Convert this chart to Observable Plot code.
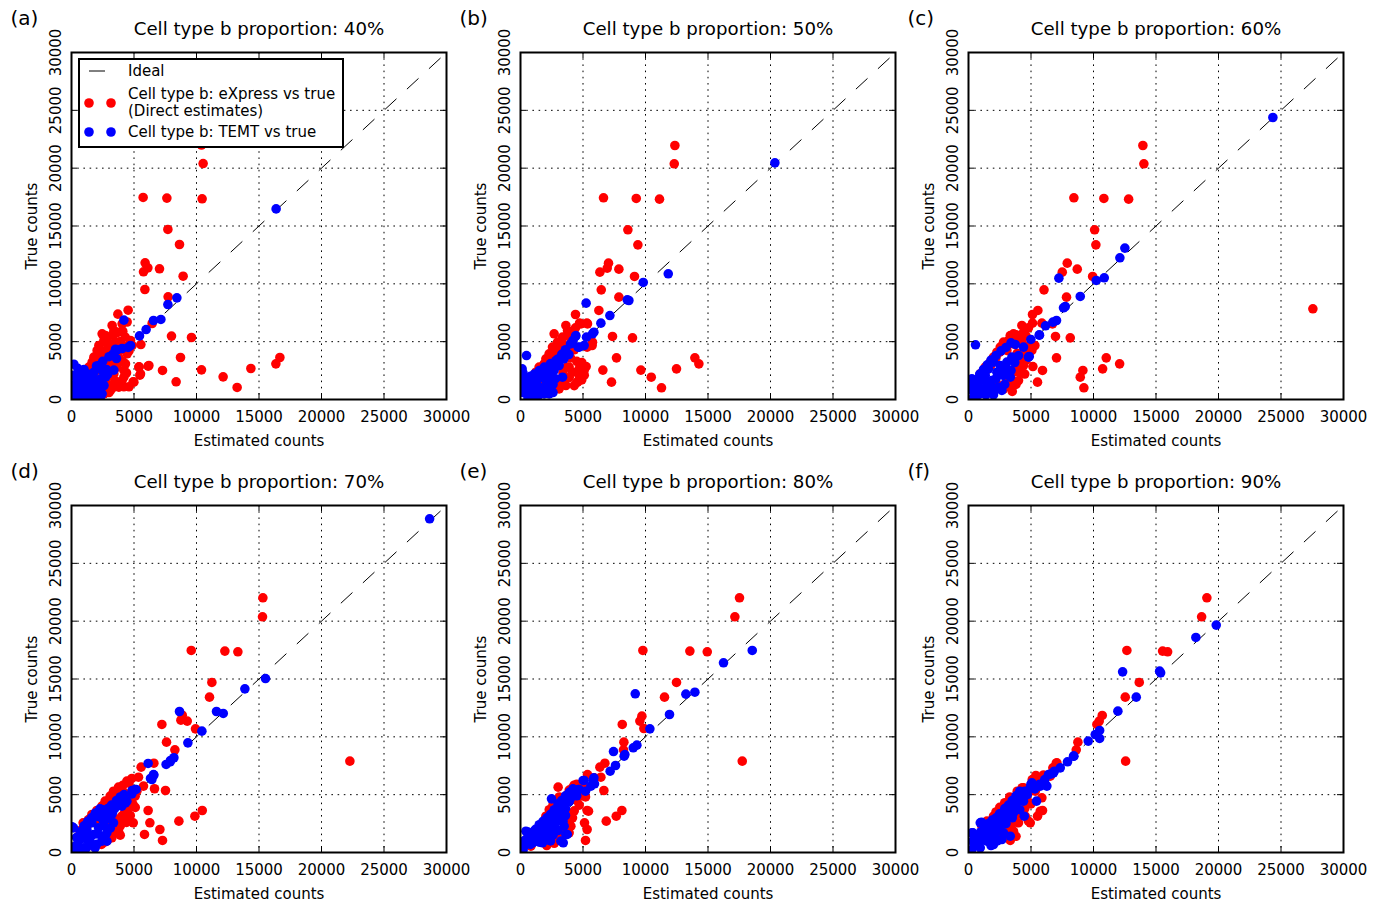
<!DOCTYPE html>
<html><head><meta charset="utf-8">
<script src="https://cdn.jsdelivr.net/npm/d3@7"></script>
<script src="https://cdn.jsdelivr.net/npm/@observablehq/plot@0.6"></script>
<style>
body{margin:0;background:#fff;}
#root{position:relative;width:1385px;height:904px;background:#fff;font-family:"DejaVu Sans",sans-serif;overflow:hidden;}
</style></head><body><div id="root"></div>
<script>
// ---------- tick / label data ----------
const axisTicks = [0, 5000, 10000, 15000, 20000, 25000, 30000];
const gridTicks = [5000, 10000, 15000, 20000, 25000];
const idealEnds = [29500, 0];
const panelLetters = ["(a)", "(b)", "(c)", "(d)", "(e)", "(f)"];
const proportions = ["40%", "50%", "60%", "70%", "80%", "90%"];
const legendLabels = ["Ideal", "Cell type b: eXpress vs true", "(Direct estimates)", "Cell type b: TEMT vs true"];

// ---------- series: [estimated, true] ----------
const redA = [[10400,22000],[10530,20400],[5730,17470],[7630,17410],[10450,17350],[7710,14700],[8640,13400],[5890,11820],[6110,11380],[5760,11040],[7040,11300],[8930,10660],[5870,9510],[7730,8880],[4530,7720],[3710,7380],[8000,5480],[9600,5360],[8720,3630],[10400,2565],[7280,2510],[12130,1960],[13250,1040],[14350,2680],[16350,3080],[16670,3630],[8370,1530],[6130,2880],[5410,2820],[5470,2100],[4930,1530],[5550,4750],[6450,6570],[4450,6700],[4190,1100],
[3250,6400],[4050,6540],[3390,5970],[2720,5530],[2450,5680],[2590,5100],[2190,4670],[2050,4240],[1790,3660],[1650,3230],[1390,2800],[1120,2360],[990,1930],[720,1360],[450,920],[320,490],[4720,5100],[4850,4670],[4450,3950],[4320,3080],[4190,2510],[4050,1640],[3790,1070],[3120,780],[2590,490],[2050,350],[2850,5100],[3120,4530],[3650,4240],[2590,3950],[3390,3660],[2320,3080],[3120,3080],[3650,2800],[1790,2220],[2590,2220],[3390,2220],[4190,1930],[2050,1360],[2850,1360],[3390,1070],[1250,1070],[1520,490],[5390,2800],[5520,2220],[4990,1500],[6190,2940],
[1500,1800],[1800,2800],[2100,3400],[2400,3700],[2700,4200],[2900,4700],[3300,5600],[3700,5800],[4100,5900],[3900,5000],[4300,4600],[4000,4300],[3800,3600],[4100,3300],[3600,3100],[2800,2700],[2400,2900],[2100,2600],[1800,1700],[1500,1300],[1200,800],[2300,1000],[2700,1700],[3000,2000],[3500,1600],[4400,2300],[4600,1100],[3000,600],[2000,750],[2900,3800],[3300,4200],[3500,5000],[4300,5400],[4600,4200]];
const blueA = [[16370,16480],[8430,8790],[7710,8210],[7150,6920],[6560,6830],[5970,6050],[5440,5500],[4190,6860],[4530,4500],[4050,4410],[3520,4350],[3600,3540],[3390,2540],[190,3050],[130,2100],[4720,4670],[3650,4300],[2190,2940],[2450,2510],[1790,2360],[1520,1930],[990,1930],[2320,1790],[720,1500],[1250,1360],[1790,1360],[450,1070],[990,920],[2050,780],[2450,490],[320,490],[720,350],[1520,490],[190,200],[1790,1070],[2720,1930],[200,600],[600,150],
[300,900],[600,1100],[900,1500],[1100,700],[1400,1600],[1600,800],[1900,1700],[2200,1300],[2600,1200],[2800,2600],[2900,2200],[400,1800],[700,2300],[1000,2600],[1300,2200],[2000,2900],[2500,3300],[3000,3700],[3300,3900],[300,1300],[1100,300],[1700,250],[2300,200],[500,2700]];

const redB = [[12350,21960],[12300,20380],[6640,17440],[9260,17380],[11120,17320],[8590,14670],[9390,13370],[7040,11790],[6940,11360],[6350,11010],[7870,11270],[9120,10640],[6460,9480],[7870,8850],[6270,7700],[4400,7350],[4720,6600],[5310,6600],[7360,5450],[8960,5330],[7680,3600],[6590,2540],[9630,2540],[7280,1500],[10460,1930],[11280,1010],[12480,2650],[13950,3600],[14270,3080],[5250,2850],[4530,1500],[5730,4670],[5330,4520],
[4830,6540],[5360,6540],[3630,6400],[3760,5970],[2690,5680],[3360,5390],[2960,4960],[4030,5390],[2560,4530],[2290,3950],[2030,3520],[1890,3080],[1490,2800],[1230,2360],[960,1930],[690,1360],[560,780],[3890,2800],[4160,2360],[4690,2080],[4560,1500],[3630,1210],[3090,920],[2830,1360],[4690,2650],[5090,2510],[5760,4960],[3090,4240],[3490,3660],
[1200,1800],[1700,2400],[2100,3000],[2400,3400],[2700,4000],[3000,4500],[3300,4900],[3700,5500],[4200,5800],[4400,6200],[3900,4700],[4300,4300],[4000,3600],[4500,3300],[4900,3200],[3700,2800],[3400,2300],[3900,1900],[4300,1200],[3400,1600],[2700,1100],[4900,1700],[5100,2100],[2400,2100],[2000,1600],[1600,1200],[1100,900]];
const blueB = [[20350,20460],[11820,10870],[9820,10120],[8540,8620],[8670,8560],[5250,8330],[7150,7260],[6430,6600],[5870,5820],[5280,5390],[4400,5450],[4610,4520],[3870,3890],[3470,3520],[480,3800],[130,2650],[130,1790],[5760,5680],[4430,5530],[5090,4670],[4690,4530],[3760,3950],[3360,3520],[3090,2940],[2690,2510],[2290,2360],[1760,2080],[1360,1790],[960,1500],[690,1070],[430,630],[1230,920],[2030,1210],[2430,920],[1890,490],[960,350],[2830,3370],[2160,1640],[3360,1930],[2290,490],[200,600],[600,150],
[500,1500],[800,2000],[1100,2200],[1500,2500],[1900,2800],[2400,3100],[2700,2900],[3000,3500],[3300,3900],[3600,4300],[4000,4800],[4200,5100],[1300,1300],[1700,1000],[2100,700],[2600,1300],[2800,1800],[2500,2200],[1900,1800],[600,1000],[300,1200],[200,2300],[1400,300],[2600,600]];

const redC = [[13950,21960],[14030,20380],[8430,17440],[10830,17380],[12810,17320],[10090,14670],[10190,13370],[7900,11790],[7500,11010],[8700,11270],[9930,10640],[6040,9480],[7840,8850],[5550,7700],[5120,7350],[5870,6600],[5120,6600],[6720,6540],[8140,5330],[6960,5450],[7040,3600],[5920,2510],[5520,1500],[5150,2850],[5310,4670],[27550,7840],[11020,3600],[10730,2650],[12090,3080],[9150,2510],[8940,1930],[9230,1010],
[4270,6400],[3600,5680],[3340,5530],[4000,5390],[2800,4960],[2540,4530],[2270,4090],[2000,3660],[1740,3230],[1340,2800],[940,2220],[670,1640],[400,1070],[4140,3370],[4400,2940],[4140,2360],[4000,1640],[3340,1070],[3200,1360],[4670,3800],[5070,4240],[3070,4240],[3600,4810],
[1000,2000],[1500,2600],[1800,3000],[2200,3600],[2500,4100],[2900,4700],[3200,5100],[3800,5600],[4400,5800],[4800,6200],[4600,5500],[4300,4900],[4800,4600],[4400,4100],[3900,4000],[4600,3400],[3800,3000],[4200,2700],[3700,2400],[3400,1800],[4500,2200],[3800,1300],[3000,1500],[2800,900],[3500,700],[2300,1300],[1700,1200],[1300,700]];
const blueC = [[24350,24380],[12510,13090],[12110,12250],[10860,10520],[10220,10290],[7230,10490],[8940,8910],[7600,7930],[7040,6830],[6750,6690],[6160,6370],[5680,5560],[4990,5190],[3740,4760],[560,4730],[4860,3720],[7740,8040],[5660,5590],[4400,4530],[4000,3800],[4800,3660],[3470,3660],[3070,3230],[2540,2940],[2000,3230],[1600,2650],[2270,2360],[2800,2080],[1340,2080],[940,1640],[1870,1640],[540,1210],[1470,1070],[2400,1070],[270,780],[940,490],[2000,630],[2670,780],[270,1790],[3340,1930],[400,200],[600,150],
[300,1200],[600,1700],[900,2200],[1200,2600],[1500,3000],[1800,3400],[2200,3800],[2600,4200],[3000,4500],[3400,4900],[1000,900],[1400,1500],[1800,1200],[2200,1800],[2600,2500],[3000,2800],[3400,2500],[3700,3200],[2000,400],[1400,400],[700,900],[2900,1300],[3100,2200]];

const redD = [[15310,22020],[15280,20380],[9580,17470],[12270,17410],[13310,17350],[11230,14700],[11040,13430],[8860,11870],[9260,11360],[8750,11440],[7230,11070],[9920,10690],[7600,9540],[8270,8880],[6590,7720],[5570,7380],[6640,5510],[7520,5360],[6130,3630],[10460,3630],[9870,3140],[8590,2710],[6270,2570],[5840,1560],[7070,1990],[7280,1040],[4940,2570],[22270,7900],[930,2570],
[4830,6400],[5360,6510],[4430,6170],[3760,5650],[3360,5300],[4030,5450],[3090,4870],[2690,4440],[2430,4010],[2030,3630],[1630,3290],[1360,2850],[1090,2420],[830,1990],[560,1410],[3630,2710],[4030,3140],[4290,3570],[4690,4440],[5090,4870],[3760,1840],[3230,1270],[2690,920],[2030,2850],[2830,2280],[5230,5300],[5760,5740],
[1000,2000],[1400,2500],[1700,3000],[2100,3400],[2500,3900],[2800,4300],[3200,4800],[3600,5200],[4100,5800],[4600,6000],[4300,5100],[4900,4200],[4500,3800],[4200,3300],[3800,2900],[4400,2600],[3900,2300],[3500,2100],[3300,1600],[3900,1500],[2900,1100],[2400,700],[1800,500],[4700,3200],[5100,3900]];
const blueD = [[28650,28850],[15520,15040],[13870,14150],[12140,12020],[11600,12190],[8640,12190],[10430,10490],[9310,9480],[8190,8190],[7920,7960],[7570,7610],[6130,7700],[6590,6690],[6320,6400],[5170,5450],[4850,5360],[4320,4290],[2270,3780],[50,2220],[7890,7840],[6560,6740],[6430,6310],[5090,5450],[4830,5070],[4430,4440],[4030,4010],[3490,3860],[3230,3290],[2430,3720],[2830,3430],[2030,3140],[2560,2710],[3360,2570],[1630,2570],[2160,2130],[2830,1700],[1230,1990],[1760,1560],[830,1560],[2430,980],[1360,980],[560,980],[290,550],[960,400],[1890,400],[160,2130],[2830,980],[200,200],
[400,1300],[700,1800],[1000,2300],[1300,2700],[1600,3000],[1900,3400],[2200,3100],[2500,3400],[2900,3800],[3200,4100],[3600,4500],[3900,4800],[4200,5000],[2600,2300],[3000,2900],[3300,3500],[2100,1600],[1500,1300],[1100,1200],[2000,700],[2500,1400],[3100,2100],[1200,400],[600,300],[1600,700]];

const redE = [[17520,22020],[17150,20380],[9790,17470],[13550,17410],[14940,17350],[12480,14700],[11520,13430],[9710,11790],[9550,11360],[9870,10720],[8140,11070],[8270,9540],[8240,8880],[6750,7720],[6350,7380],[3010,5650],[6670,5360],[5330,3630],[8110,3630],[7660,3140],[6860,2710],[5120,2570],[5330,1990],[5200,1040],[17740,7900],
[6430,6510],[5360,6740],[5890,6460],[4290,5820],[4690,5300],[4160,5590],[3630,4870],[3360,4500],[2290,2420],[2030,3140],[1760,2130],[2030,1270],[1360,980],[830,550],[2560,1120],[2830,3290],[4160,3000],[4030,2280],[3890,1700],[3230,1560],[5440,3570],
[2300,3700],[2600,4100],[2900,4400],[3100,4800],[3900,5400],[4500,5900],[5000,5700],[4500,4500],[4700,4100],[4300,3600],[3800,3300],[3900,2600],[3600,2000],[3300,1300],[2700,800],[2100,600],[1500,1500],[1200,1700],[1000,1200],[600,900],[4800,4900],[5200,4800]];
const blueE = [[18540,17470],[16240,16400],[13950,13860],[13230,13690],[9180,13720],[11920,11930],[10350,10690],[9310,9280],[9020,9050],[7440,8730],[8350,8470],[7600,7520],[7170,7030],[5920,5940],[5870,6460],[5010,6230],[4640,5450],[2480,4640],[3740,1560],[3420,840],[590,1760],[8290,8330],[5810,6230],[5090,6230],[5630,5740],[4690,5450],[4030,4730],[3630,4290],[3090,4010],[3360,3570],[2690,3430],[3230,3000],[2290,2710],[2830,2570],[1890,2420],[1490,2130],[2430,1990],[1090,1840],[2030,1560],[690,1560],[3630,1560],[1360,1270],[430,1120],[3230,980],[960,840],[290,550],[1760,840],[430,1840],[3490,2280],[200,200],
[300,1000],[600,1300],[900,1600],[1200,2000],[1500,2400],[1800,2700],[2100,3000],[2400,3300],[2700,3700],[3000,4200],[3300,4500],[3600,4900],[3900,5200],[4200,5500],[4400,5200],[3900,4400],[3600,3800],[3300,3300],[2900,3000],[2500,2600],[2100,2200],[1700,1800],[1400,1500],[1100,1100],[800,700],[2600,1500],[3000,1900],[3400,2700],[1500,900],[2000,1100],[2400,1000],[3600,3200],[4500,4900],[5200,5300]];

const redF = [[19070,22020],[18650,20380],[12670,17470],[15530,17410],[15930,17350],[13660,14700],[12540,13430],[10700,11850],[10460,11360],[10270,11070],[8750,9540],[8620,8880],[7020,7720],[6750,7320],[12570,7900],[5390,6660],[5920,6510],[5920,3630],[5520,3140],[4800,2710],[3340,1040],
[7070,7750],[6800,7180],[6540,6600],[5740,6310],[5470,5880],[4800,5160],[4400,5590],[3600,4580],[3200,4150],[2670,3720],[2000,3140],[1470,2710],[1070,2280],[5740,3570],[4940,2570],[4540,3140],[4000,2570],[3600,1840],[2800,1270],[2270,1560],[5340,5300],[5870,4730],[940,1270],
[2200,3500],[2500,3900],[2900,4300],[3300,4800],[3900,5300],[4300,5600],[5100,6300],[6000,6700],[4700,4500],[5000,4200],[4500,3800],[4300,3300],[3700,3000],[3400,2300],[3000,1800],[2500,1400],[1900,1900],[1600,2200],[1300,1600],[700,1000],[3800,1400]];
const blueF = [[19820,19660],[18190,18590],[12330,15620],[15370,15530],[15290,15680],[13420,13430],[11950,12220],[10490,10550],[10140,10200],[10490,9860],[9580,9630],[8430,8330],[7920,7840],[6860,7030],[6620,6800],[6270,5740],[4990,5880],[5440,4440],[4460,3140],[350,1700],[1040,2620],[8400,8330],[7340,7320],[6800,6890],[6400,6740],[6140,5880],[5740,5740],[5070,6020],[4940,5590],[4270,5070],[4400,4440],[3870,4580],[3470,4150],[3070,3720],[2480,3340],[3600,3430],[2800,2850],[2000,2570],[2270,2130],[1600,1990],[940,2570],[2800,1700],[1200,1560],[2000,1410],[670,1270],[2670,1120],[3340,1410],[270,1700],[1470,980],[400,840],[940,400],[270,260],[2000,690],
[400,1100],[700,1500],[1000,1800],[1300,2200],[1600,2500],[1900,2800],[2200,3000],[2600,3300],[2900,3800],[3200,4100],[3500,4500],[3800,4900],[4100,5300],[4500,5300],[4700,5000],[4000,4400],[3700,3900],[3300,3400],[3000,3000],[2600,2600],[2200,2300],[1800,1900],[1500,1500],[1200,1200],[900,900],[1700,1100],[2200,1700],[2500,2000],[3000,2500],[3500,3000],[4100,3700],[2300,1000],[1800,600],[5300,5500],[5700,5900],[6100,6300]];

const redSeries = [redA, redB, redC, redD, redE, redF];
const blueSeries = [blueA, blueB, blueC, blueD, blueE, blueF];

// ---------- layout ----------
const W = 450, H = 452, ML = 71, MR = 4, MT = 52, MB = 53;
const innerW = W - ML - MR, innerH = H - MT - MB;
const colLeft = [0, 449, 897];
const rowTop = [0, 453];
const RED = "#ff0000", BLUE = "#0000ff";
const FONT = "DejaVu Sans, sans-serif";
const TICK_FS = 15;
const DOT_R = 4.8;
const root = document.getElementById("root");

function makePanel(i) {
  const idealLine = idealEnds.map(v => ({x: v, y: v}));
  const chart = Plot.plot({
    width: W, height: H,
    marginLeft: ML, marginRight: MR, marginTop: MT, marginBottom: MB,
    style: {background: "transparent", overflow: "visible", fontFamily: FONT, color: "black"},
    x: {domain: [0, 30000], axis: null},
    y: {domain: [0, 30000], axis: null},
    marks: [
      Plot.ruleX(gridTicks, {x: d => d, stroke: "black", strokeWidth: 1, strokeDasharray: "1.6,4.6"}),
      Plot.ruleY(gridTicks, {y: d => d, stroke: "black", strokeWidth: 1, strokeDasharray: "1.6,4.6"}),
      Plot.line(idealLine, {x: "x", y: "y", stroke: "black", strokeWidth: 1, strokeDasharray: "15,15"}),
      Plot.dot(redSeries[i], {x: d => d[0], y: d => d[1], r: DOT_R, fill: RED, stroke: null, clip: true}),
      Plot.dot(blueSeries[i], {x: d => d[0], y: d => d[1], r: DOT_R, fill: BLUE, stroke: null, clip: true}),
      // inward ticks on all four sides
      Plot.ruleX(axisTicks, {x: d => d, stroke: "black", strokeWidth: 1, insetTop: innerH - 6}),
      Plot.ruleX(axisTicks, {x: d => d, stroke: "black", strokeWidth: 1, insetBottom: innerH - 6}),
      Plot.ruleY(axisTicks, {y: d => d, stroke: "black", strokeWidth: 1, insetRight: innerW - 6}),
      Plot.ruleY(axisTicks, {y: d => d, stroke: "black", strokeWidth: 1, insetLeft: innerW - 6}),
      Plot.frame({stroke: "black", strokeWidth: 2}),
      // tick labels
      Plot.text(axisTicks, {x: d => d, frameAnchor: "bottom", dy: 18, text: d => String(d), fontSize: TICK_FS, lineAnchor: "middle", fill: "black"}),
      Plot.text(axisTicks, {y: d => d, frameAnchor: "left", dx: -15, rotate: -90, text: d => String(d), fontSize: TICK_FS, textAnchor: "middle", lineAnchor: "middle", fill: "black"}),
      // axis labels
      Plot.text(["Estimated counts"], {frameAnchor: "bottom", dy: 42, text: d => d, fontSize: TICK_FS, lineAnchor: "middle", fill: "black"}),
      Plot.text(["True counts"], {frameAnchor: "left", dx: -39, rotate: -90, text: d => d, fontSize: TICK_FS, textAnchor: "middle", lineAnchor: "middle", fill: "black"}),
      // title and panel letter
      Plot.text(["Cell type b proportion: " + proportions[i]], {frameAnchor: "top", dy: -23, text: d => d, fontSize: 18.2, lineAnchor: "middle", fill: "black"}),
      Plot.text([panelLetters[i]], {frameAnchor: "top-left", dx: -61, dy: -34, text: d => d, fontSize: 20, textAnchor: "start", lineAnchor: "middle", fill: "black"})
    ]
  });
  chart.style.position = "absolute";
  chart.style.left = colLeft[i % 3] + "px";
  chart.style.top = rowTop[Math.floor(i / 3)] + "px";
  root.appendChild(chart);
}
for (let i = 0; i < 6; i++) makePanel(i);

// ---------- legend (panel a) ----------
const lg = d3.select(root).append("svg")
  .attr("width", 266).attr("height", 90)
  .style("position", "absolute").style("left", "78px").style("top", "58px")
  .style("font-family", FONT);
lg.append("rect").attr("x", 1).attr("y", 1).attr("width", 264).attr("height", 88)
  .attr("fill", "white").attr("stroke", "black").attr("stroke-width", 2);
lg.append("line").attr("x1", 11).attr("x2", 27).attr("y1", 13).attr("y2", 13).attr("stroke", "black").attr("stroke-width", 1);
[[11, 45, RED], [33, 45, RED], [11, 74, BLUE], [33, 74, BLUE]].forEach(([cx, cy, c]) =>
  lg.append("circle").attr("cx", cx).attr("cy", cy).attr("r", DOT_R).attr("fill", c));
[[legendLabels[0], 13], [legendLabels[1], 36], [legendLabels[2], 53], [legendLabels[3], 74]].forEach(([t, y]) =>
  lg.append("text").attr("x", 50).attr("y", y).attr("dy", "0.35em").attr("font-size", TICK_FS).attr("fill", "black").text(t));
</script></body></html>
